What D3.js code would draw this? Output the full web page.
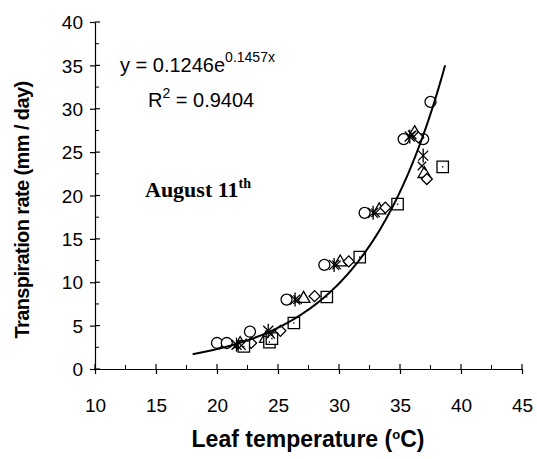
<!DOCTYPE html>
<html>
<head>
<meta charset="utf-8">
<script src="https://cdn.jsdelivr.net/npm/d3@7"></script>
<style>
  body { margin: 0; background: #fff; }
  svg { display: block; font-family: Arial, "Liberation Sans", sans-serif; }
  .tick-lbl { font-size: 19px; fill: #000; }
  .axis-title { font-size: 19px; font-weight: bold; fill: #000; }
  .eq { font-size: 20px; fill: #000; }
  .date { font-family: "Times New Roman", "Liberation Serif", serif; font-size: 22px; font-weight: bold; }
</style>
</head>
<body>
<div id="chart"></div>
<script>
// Leaf temperature vs transpiration rate, August 11th.

const xTicks = [10, 15, 20, 25, 30, 35, 40, 45];
const yTicks = [0, 5, 10, 15, 20, 25, 30, 35, 40];

// one array per marker series: [leaf temp (C), transpiration (mm/day)]
const circlePts = [[20.0, 3.0], [20.8, 3.0], [22.7, 4.3], [25.7, 8.0], [28.8, 12.0], [32.1, 18.0], [35.3, 26.5], [36.9, 26.5], [37.5, 30.8]];
const starPts = [[21.6, 2.8], [24.2, 4.4], [26.4, 8.0], [29.6, 12.0], [32.8, 18.0], [35.8, 26.8], [36.9, 24.6]];
const crossPts = [[22.0, 2.7], [24.4, 4.0], [26.6, 8.0], [29.8, 12.0], [33.0, 18.0], [36.0, 27.0], [36.8, 23.4]];
const trianglePts = [[21.9, 2.9], [24.0, 3.5], [27.1, 8.1], [30.1, 12.3], [33.3, 18.3], [36.2, 27.2], [37.0, 22.5]];
const diamondPts = [[22.4, 2.8], [22.8, 3.0], [25.2, 4.4], [28.0, 8.4], [30.8, 12.4], [33.8, 18.6], [36.5, 26.7], [37.2, 21.9]];
const squarePts = [[22.2, 2.6], [24.3, 3.1], [24.5, 3.5], [26.3, 5.3], [29.0, 8.3], [31.7, 12.9], [34.8, 19.0], [38.5, 23.3]];

// exponential trendline as printed on the chart
const fitA = 0.1246, fitB = 0.1457;
const fitRange = [18, 38.7];

const W = 537, H = 459;
const M = { left: 95, right: 15, top: 22, bottom: 90 };

const svg = d3.select("#chart").append("svg").attr("width", W).attr("height", H);

const x = d3.scaleLinear().domain([10, 45]).range([M.left, 522]);
const y = d3.scaleLinear().domain([0, 40]).range([369, M.top]);

// axes: major ticks cross the line, minor ticks point inward
const xAxis = svg.append("g").attr("transform", `translate(0,${y(0)})`);
xAxis.call(d3.axisBottom(x).tickValues(xTicks).tickSize(5).tickSizeOuter(0).tickFormat(d3.format("d")));
const yAxis = svg.append("g").attr("transform", `translate(${x(10)},0)`);
yAxis.call(d3.axisLeft(y).tickValues(yTicks).tickSize(5).tickSizeOuter(0).tickFormat(d3.format("d")));
[xAxis, yAxis].forEach((a) => {
  a.select(".domain").attr("stroke", "#000").attr("stroke-width", 1.2);
  a.selectAll(".tick line").attr("stroke", "#000").attr("stroke-width", 1.2);
  a.selectAll(".tick text").attr("class", "tick-lbl").attr("font-size", null).attr("font-family", null);
});
xAxis.selectAll(".tick text").attr("dy", null).attr("y", 43);
yAxis.selectAll(".tick text").attr("x", -12).attr("dy", "0.35em");

const xMinor = d3.range(12.5, 45, 5);
const yMinor = d3.range(2.5, 40, 5);
svg.append("g").selectAll("line").data(xTicks).join("line")
  .attr("x1", (d) => x(d)).attr("x2", (d) => x(d)).attr("y1", y(0)).attr("y2", y(0) - 5)
  .attr("stroke", "#000").attr("stroke-width", 1.2);
svg.append("g").selectAll("line").data(xMinor).join("line")
  .attr("x1", (d) => x(d)).attr("x2", (d) => x(d)).attr("y1", y(0)).attr("y2", y(0) - 4)
  .attr("stroke", "#000").attr("stroke-width", 1);
svg.append("g").selectAll("line").data(yTicks).join("line")
  .attr("x1", x(10)).attr("x2", x(10) + 5).attr("y1", (d) => y(d)).attr("y2", (d) => y(d))
  .attr("stroke", "#000").attr("stroke-width", 1.2);
svg.append("g").selectAll("line").data(yMinor).join("line")
  .attr("x1", x(10)).attr("x2", x(10) + 4).attr("y1", (d) => y(d)).attr("y2", (d) => y(d))
  .attr("stroke", "#000").attr("stroke-width", 1);

// axis titles
const xt = svg.append("text").attr("class", "axis-title").attr("x", 308).attr("y", 447)
  .attr("text-anchor", "middle").style("font-size", "23px");
xt.append("tspan").text("Leaf temperature (");
xt.append("tspan").attr("font-size", 13).attr("dy", -8).text("o");
xt.append("tspan").attr("dy", 8).text("C)");
svg.append("text").attr("class", "axis-title")
  .attr("transform", `translate(29,210) rotate(-90)`)
  .attr("text-anchor", "middle").style("font-size", "20px").style("letter-spacing", "-0.6px")
  .text("Transpiration rate (mm / day)");

// markers
const mk = svg.append("g").attr("fill", "#fff").attr("stroke", "#000").attr("stroke-width", 1.3);
const sym = (type, size) => d3.symbol().type(type).size(size)();
mk.selectAll(".c").data(circlePts).join("circle").attr("class", "c")
  .attr("cx", (d) => x(d[0])).attr("cy", (d) => y(d[1])).attr("r", 5.5);
mk.selectAll(".t").data(trianglePts).join("path").attr("class", "t")
  .attr("transform", (d) => `translate(${x(d[0])},${y(d[1])})`).attr("d", sym(d3.symbolTriangle, 70));
mk.selectAll(".d").data(diamondPts).join("path").attr("class", "d")
  .attr("transform", (d) => `translate(${x(d[0])},${y(d[1])}) rotate(45)`).attr("d", sym(d3.symbolSquare, 60));
mk.selectAll(".s").data(squarePts).join("path").attr("class", "s")
  .attr("transform", (d) => `translate(${x(d[0])},${y(d[1])})`).attr("d", sym(d3.symbolSquare, 130));
mk.selectAll(".sd").data(squarePts).join("circle").attr("class", "sd")
  .attr("cx", (d) => x(d[0])).attr("cy", (d) => y(d[1])).attr("r", 0.8).attr("fill", "#000").attr("stroke", "none");
mk.selectAll(".x").data(crossPts).join("path").attr("class", "x")
  .attr("transform", (d) => `translate(${x(d[0])},${y(d[1])}) rotate(45)`).attr("d", "M-6,0L6,0M0,-6L0,6");
mk.selectAll(".st").data(starPts).join("path").attr("class", "st")
  .attr("transform", (d) => `translate(${x(d[0])},${y(d[1])})`).attr("d", "M-5,-5L5,5M-5,5L5,-5M0,-7L0,7");

// trendline
const fitXs = d3.range(fitRange[0], fitRange[1] + 0.001, 0.1);
svg.append("path")
  .attr("d", d3.line().x((v) => x(v)).y((v) => y(fitA * Math.exp(fitB * v)))(fitXs))
  .attr("fill", "none").attr("stroke", "#000").attr("stroke-width", 2);

// annotations
const eq = svg.append("text").attr("class", "eq").attr("x", 120).attr("y", 72);
eq.append("tspan").text("y = 0.1246e");
eq.append("tspan").attr("font-size", 14).attr("dy", -10).text("0.1457x");
const r2 = svg.append("text").attr("class", "eq").attr("x", 148).attr("y", 107);
r2.append("tspan").text("R");
r2.append("tspan").attr("font-size", 14).attr("dy", -9).text("2");
r2.append("tspan").attr("dy", 9).text(" = 0.9404");
const dt = svg.append("text").attr("class", "date").attr("x", 145).attr("y", 197);
dt.append("tspan").text("August 11");
dt.append("tspan").attr("font-size", 14).attr("dy", -9).text("th");
</script>
</body>
</html>
